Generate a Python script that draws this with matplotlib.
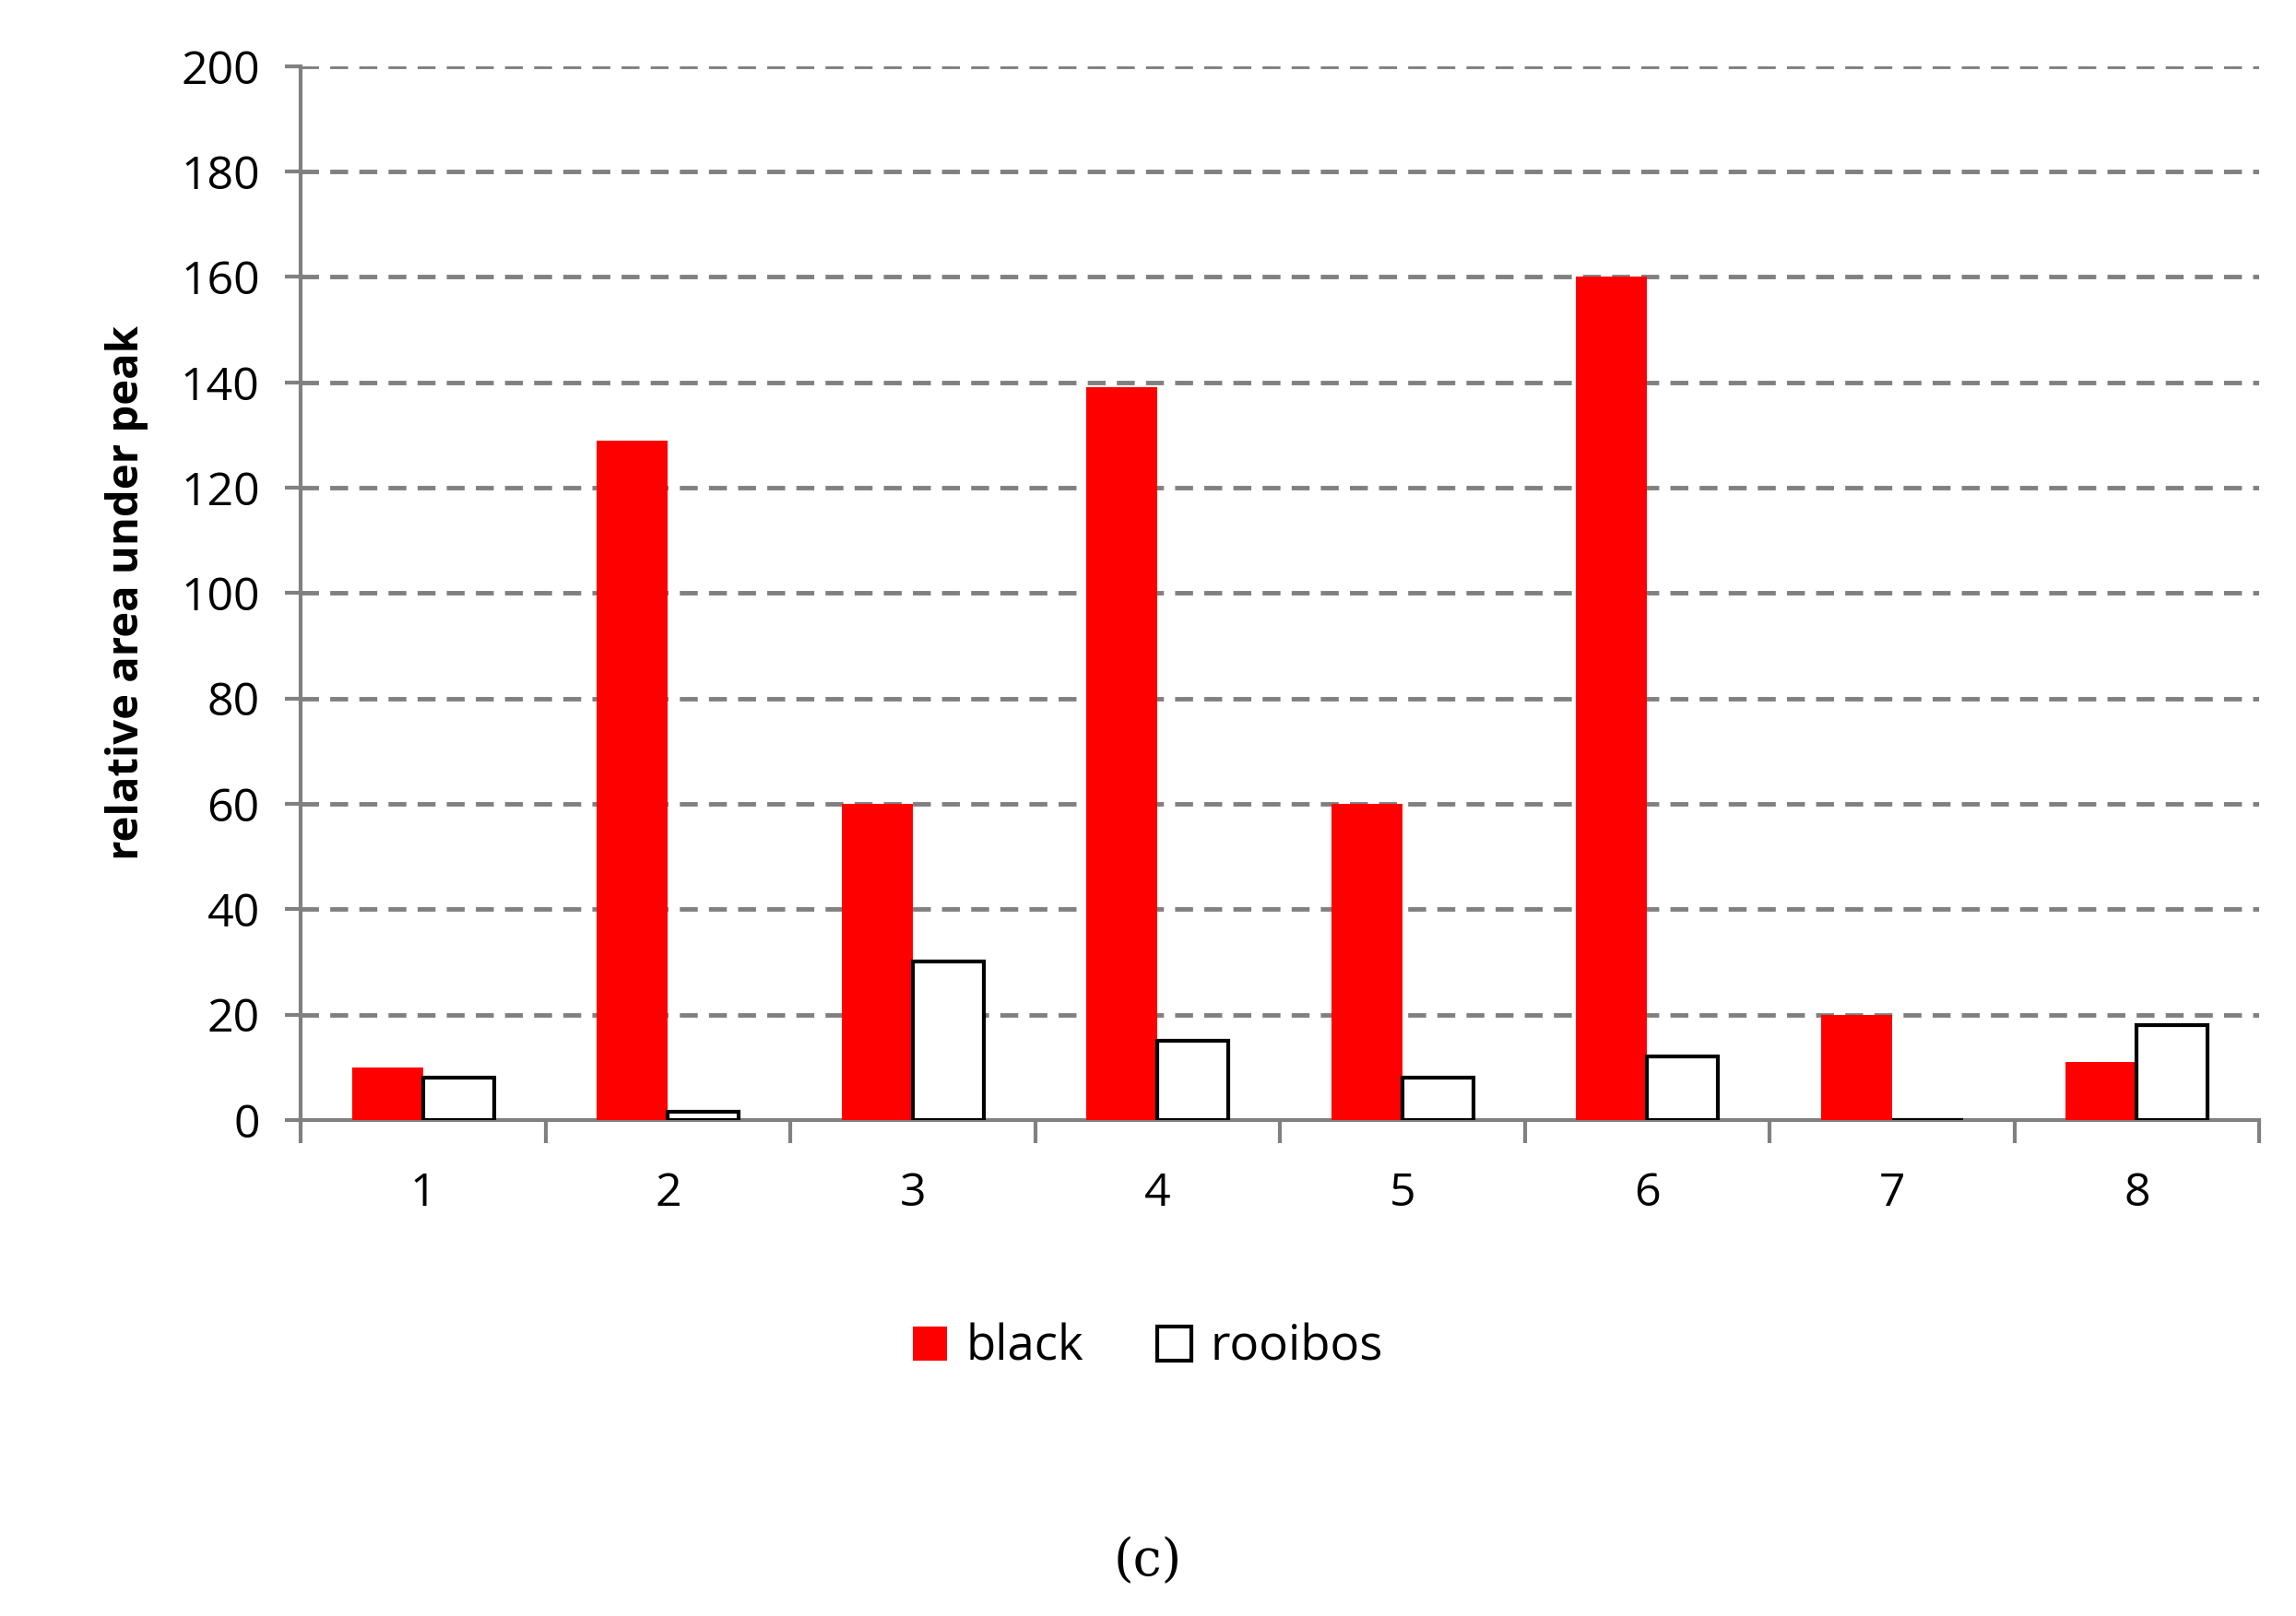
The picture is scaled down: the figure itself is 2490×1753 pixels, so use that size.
import matplotlib
matplotlib.use("Agg")
import matplotlib.pyplot as plt
import numpy as np

categories = ["1", "2", "3", "4", "5", "6", "7", "8"]
black = [10, 129, 60, 139, 60, 160, 20, 11]
rooibos = [8, 1.5, 30, 15, 8, 12, 0, 18]

plt.rcParams['font.family'] = ['Open Sans', 'DejaVu Sans']
fig = plt.figure(figsize=(24.9, 17.53), dpi=100)
ax = fig.add_axes([0.131, 0.307, 0.853, 0.652])
x = np.arange(len(categories))
w = 0.29
ax.bar(x - w/2, black, w, color='#ff0000', label='black', zorder=3)
ax.bar(x + w/2, rooibos, w, color='white', edgecolor='black', linewidth=3, label='rooibos', zorder=3)
ax.set_xlim(-0.5, len(categories) - 0.5)
ax.set_ylim(0, 200)
ax.set_yticks(np.arange(0, 201, 20))
ax.yaxis.grid(True, color='#808080', linestyle=(0, (4, 2.5)), linewidth=3.5, zorder=0)
ax.set_xticks(x)
ax.set_xticklabels(categories)
ax.set_xticks(np.arange(-0.5, len(categories)), minor=True)
ax.tick_params(axis='x', which='major', length=0, pad=40, labelsize=36)
ax.tick_params(axis='x', which='minor', length=18, width=3, color='#808080', direction='out')
ax.tick_params(axis='y', length=12, width=3, color='#808080', labelsize=36, pad=20)
for s in ['top', 'right']:
    ax.spines[s].set_visible(False)
for s in ['left', 'bottom']:
    ax.spines[s].set_color('#808080')
    ax.spines[s].set_linewidth(3)
ax.set_ylabel('relative area under peak', fontsize=34, fontweight='bold', labelpad=25)
fig.legend(loc='center', bbox_to_anchor=(0.5, 0.166), ncol=2, frameon=False, fontsize=38,
           handlelength=0.7, handleheight=0.7, columnspacing=1.5, handletextpad=0.4)
fig.text(0.5, 0.034, '(c)', ha='center', va='center', fontsize=40, family='DejaVu Serif')
fig.savefig('out.png', dpi=100)
